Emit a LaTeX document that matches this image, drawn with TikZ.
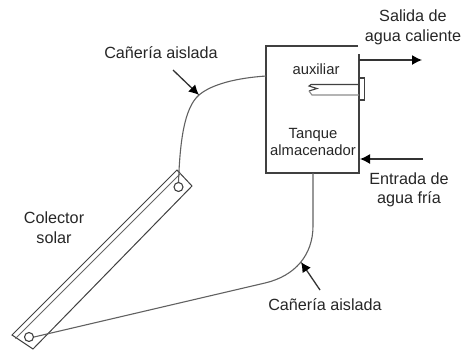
\documentclass[tikz,border=0pt]{standalone}
\usepackage{fontspec}
\setmainfont{Liberation Sans}
\usetikzlibrary{arrows.meta}
\tikzset{
  lbl/.style={font=\fontsize{16.2}{19.5}\selectfont, text=black!85, align=center, inner sep=0pt},
  inlbl/.style={font=\fontsize{14.8}{17}\selectfont, text=black!85, align=center, inner sep=0pt},
  ln/.style={draw=black!75, line width=1.1pt},
  pipe/.style={draw=black!62, line width=1.1pt},
  arr/.style={draw=black!80, line width=1.3pt, -{Latex[length=10pt,width=10pt,fill=black,color=black]}},
}
\begin{document}
\begin{tikzpicture}[x=1pt,y=-1pt]
\useasboundingbox (0,0) rectangle (461,349);
% tank
\coordinate (tl) at (266,46); \coordinate (tr) at (358,46);
\coordinate (rs) at (359,54); \coordinate (br) at (359,173); \coordinate (bl) at (266,173);
\draw[ln] (tr) -- (tl) -- (bl) -- (br) -- (rs);
\node[inlbl] (aux) at (316,69) {auxiliar};
\node[inlbl] (tq) at (313,142) {Tanque\\almacenador};
% heater
\node[draw=black!75,line width=1.1pt,minimum width=5pt,minimum height=22pt,inner sep=0pt] (plate) at (362,89) {};
\coordinate (h1) at (359,84.5); \coordinate (h2) at (359,95);
\draw[ln] (h1) -- (311,84.5) -- (309,86) -- (317,88.5) -- (309,91);
\draw[draw=black!45,line width=1.1pt] (309,91) -- (312,95) -- (h2);
% outlets
\coordinate (o1) at (359,60); \coordinate (o2) at (422,60);
\draw[arr] (o1) -- (o2);
\coordinate (i1) at (423,159); \coordinate (i2) at (360,159);
\draw[arr] (i1) -- (i2);
% collector
\coordinate (c1) at (177,170); \coordinate (c2) at (192,186); \coordinate (c3) at (33,349); \coordinate (c4) at (12,335);
\draw[ln,line width=1pt] (c1) -- (c2) -- (c3) -- (c4) -- cycle;
\coordinate (d1) at (180.5,173.5); \coordinate (d2) at (15.5,338.5);
\draw[draw=black!60,line width=.9pt] (d1) -- (d2);
\node[circle,draw=black!75,line width=1.1pt,minimum size=9pt,inner sep=0pt] (top) at (178.5,187) {};
\node[circle,draw=black!75,line width=1.1pt,minimum size=9pt,inner sep=0pt] (bot) at (29,337) {};
% pipes
\coordinate (p1) at (266,76); \coordinate (p2) at (313,173);
\draw[pipe] (p1) .. controls (237,78) and (212,84) .. (199,95) .. controls (184,108) and (180,142) .. (top.north);
\draw[pipe] (p2) -- (313,226) .. controls (313,255) and (295,276) .. (265,283) -- (bot.east);
% labels
\node[lbl] (l1) at (161,53) {Cañería aislada};
\node[lbl] (l2) at (325,305) {Cañería aislada};
\node[lbl] (out) at (413,27.5) {Salida de\\agua caliente};
\node[lbl] (in) at (409,190) {Entrada de\\agua fría};
\node[lbl] (col) at (54,227.5) {Colector\\solar};
% pointer arrows
\coordinate (a1) at (173,70); \coordinate (a2) at (199,95);
\draw[arr] (a1) -- (a2);
\coordinate (b1) at (320,290); \coordinate (b2) at (301,262);
\draw[arr] (b1) -- (b2);
\end{tikzpicture}
\end{document}
